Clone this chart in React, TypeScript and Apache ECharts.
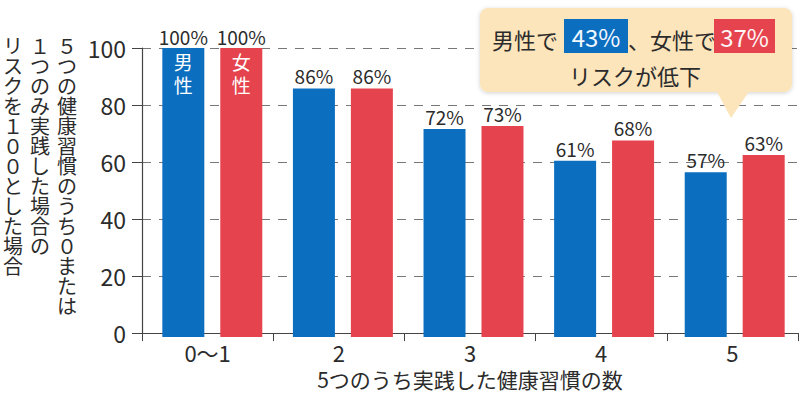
import React, { useEffect, useRef } from "react";
import * as echarts from "echarts";

const categories = ["0〜1", "2", "3", "4", "5"];
const maleRisk = [100, 86, 72, 61, 57];
const femaleRisk = [100, 86, 73, 68, 63];
const yMin = 0;
const yMax = 100;
const yInterval = 20;
const yTitleColumns = ["５つの健康習慣のうち０または", "１つのみ実践した場合の", "リスクを１００とした場合"];
const xTitle = "5つのうち実践した健康習慣の数";
const sexNames = ["男性", "女性"];

const BLUE = "#0b6ebf";
const RED = "#e5434e";
const TEXT = "#2b2b2b";
const FONT = "'Noto Sans CJK JP', 'Noto Sans', sans-serif";

function firstLabel(sex: string) {
  return {
    show: true,
    position: ["50%", -26],
    align: "center",
    verticalAlign: "top",
    formatter: (p: any) => `{pct|${p.value}%}\n{sex|${sex[0]}}\n{sex|${sex[1]}}`,
    rich: {
      pct: { fontSize: 19, color: TEXT, lineHeight: 28, fontFamily: FONT },
      sex: { fontSize: 19, color: "#ffffff", lineHeight: 23, fontFamily: FONT },
    },
  };
}

export default function App() {
  const ref = useRef<HTMLDivElement>(null);
  useEffect(() => {
    if (!ref.current) return;
    const chart = echarts.init(ref.current, null, { renderer: "svg" });
    const last = categories.length - 1;
    const maleDrop = 100 - maleRisk[last];
    const femaleDrop = 100 - femaleRisk[last];

    const yTitleGraphics: any[] = [];
    yTitleColumns.forEach((t, i) => {
      Array.from(t).forEach((ch, j) => {
        yTitleGraphics.push({
          type: "text",
          x: 67 - i * 27,
          y: 45 + j * 20,
          style: {
            text: ch,
            fontSize: 20,
            lineHeight: 19,
            fontFamily: FONT,
            fill: TEXT,
            align: "center",
            verticalAlign: "middle",
          },
        });
      });
    });

    const callout = [
      {
        type: "rect",
        shape: { x: 480, y: 8, width: 312, height: 84, r: 8 },
        style: { fill: "#fce4bb", shadowBlur: 4, shadowColor: "rgba(0,0,0,0.18)", shadowOffsetY: 1 },
        z: 10,
      },
      {
        type: "polygon",
        shape: { points: [[716, 90], [750, 90], [731, 118]] },
        style: { fill: "#fce4bb" },
        z: 11,
      },
      {
        type: "text",
        x: 492,
        y: 39,
        style: { text: "男性で", fontSize: 22, fontFamily: FONT, fill: TEXT, verticalAlign: "middle", align: "left" },
        z: 12,
      },
      { type: "rect", shape: { x: 564, y: 19, width: 64, height: 34 }, style: { fill: BLUE }, z: 12 },
      {
        type: "text",
        x: 596,
        y: 36,
        style: { text: `${maleDrop}%`, fontSize: 24, fontFamily: FONT, fill: "#f2f8ff", align: "center", verticalAlign: "middle" },
        z: 13,
      },
      {
        type: "text",
        x: 628,
        y: 39,
        style: { text: "、女性で", fontSize: 22, fontFamily: FONT, fill: TEXT, verticalAlign: "middle", align: "left" },
        z: 12,
      },
      { type: "rect", shape: { x: 714, y: 19, width: 61, height: 34 }, style: { fill: RED }, z: 12 },
      {
        type: "text",
        x: 744.5,
        y: 36,
        style: { text: `${femaleDrop}%`, fontSize: 24, fontFamily: FONT, fill: "#fff5f5", align: "center", verticalAlign: "middle" },
        z: 13,
      },
      {
        type: "text",
        x: 635,
        y: 75,
        style: { text: "リスクが低下", fontSize: 22, fontFamily: FONT, fill: TEXT, align: "center", verticalAlign: "middle" },
        z: 12,
      },
    ];

    const baseLabel = {
      show: true,
      position: "top",
      distance: 3,
      formatter: "{c}%",
      fontSize: 19,
      color: TEXT,
      fontFamily: FONT,
    };

    chart.setOption({
      animation: false,
      backgroundColor: "#ffffff",
      textStyle: { fontFamily: FONT },
      grid: [
        { left: 142, right: 2, top: 48, bottom: 57 },
        { left: 147, right: -3, top: 48, bottom: 57 },
      ],
      xAxis: [
        {
          type: "category",
          gridIndex: 0,
          data: categories,
          axisLine: { lineStyle: { color: "#444", width: 1.2 } },
          axisTick: { show: true, length: 8, lineStyle: { color: "#444" } },
          axisLabel: { fontSize: 22, color: TEXT, margin: 8, fontFamily: FONT },
          name: xTitle,
          nameLocation: "middle",
          nameGap: 32,
          nameTextStyle: { fontSize: 21, color: TEXT, fontFamily: FONT },
        },
        { type: "category", gridIndex: 1, data: categories, show: false },
      ],
      yAxis: [
        {
          type: "value",
          gridIndex: 0,
          min: yMin,
          max: yMax,
          interval: yInterval,
          axisLine: { show: true, lineStyle: { color: "#444", width: 1.2 } },
          axisTick: { show: true, length: 10, lineStyle: { color: "#444" } },
          axisLabel: { fontSize: 23, color: TEXT, margin: 16, fontFamily: FONT },
          splitLine: { show: true, lineStyle: { color: "#777", type: [9, 8], width: 1 } },
        },
        { type: "value", gridIndex: 1, min: yMin, max: yMax, interval: yInterval, show: false, splitLine: { show: false } },
      ],
      series: [
        {
          type: "bar",
          name: sexNames[0],
          xAxisIndex: 1,
          yAxisIndex: 1,
          barWidth: 42,
          barGap: "38%",
          itemStyle: { color: BLUE },
          label: baseLabel,
          data: maleRisk.map((v, i) => (i === 0 ? { value: v, label: firstLabel(sexNames[0]) } : v)),
        },
        {
          type: "bar",
          name: sexNames[1],
          xAxisIndex: 1,
          yAxisIndex: 1,
          barWidth: 42,
          barGap: "38%",
          itemStyle: { color: RED },
          label: baseLabel,
          data: femaleRisk.map((v, i) => (i === 0 ? { value: v, label: firstLabel(sexNames[1]) } : v)),
        },
      ],
      graphic: [...yTitleGraphics, ...callout],
    });
    return () => chart.dispose();
  }, []);
  return <div ref={ref} style={{ position: "fixed", left: 0, top: 0, width: 800, height: 394 }} />;
}
